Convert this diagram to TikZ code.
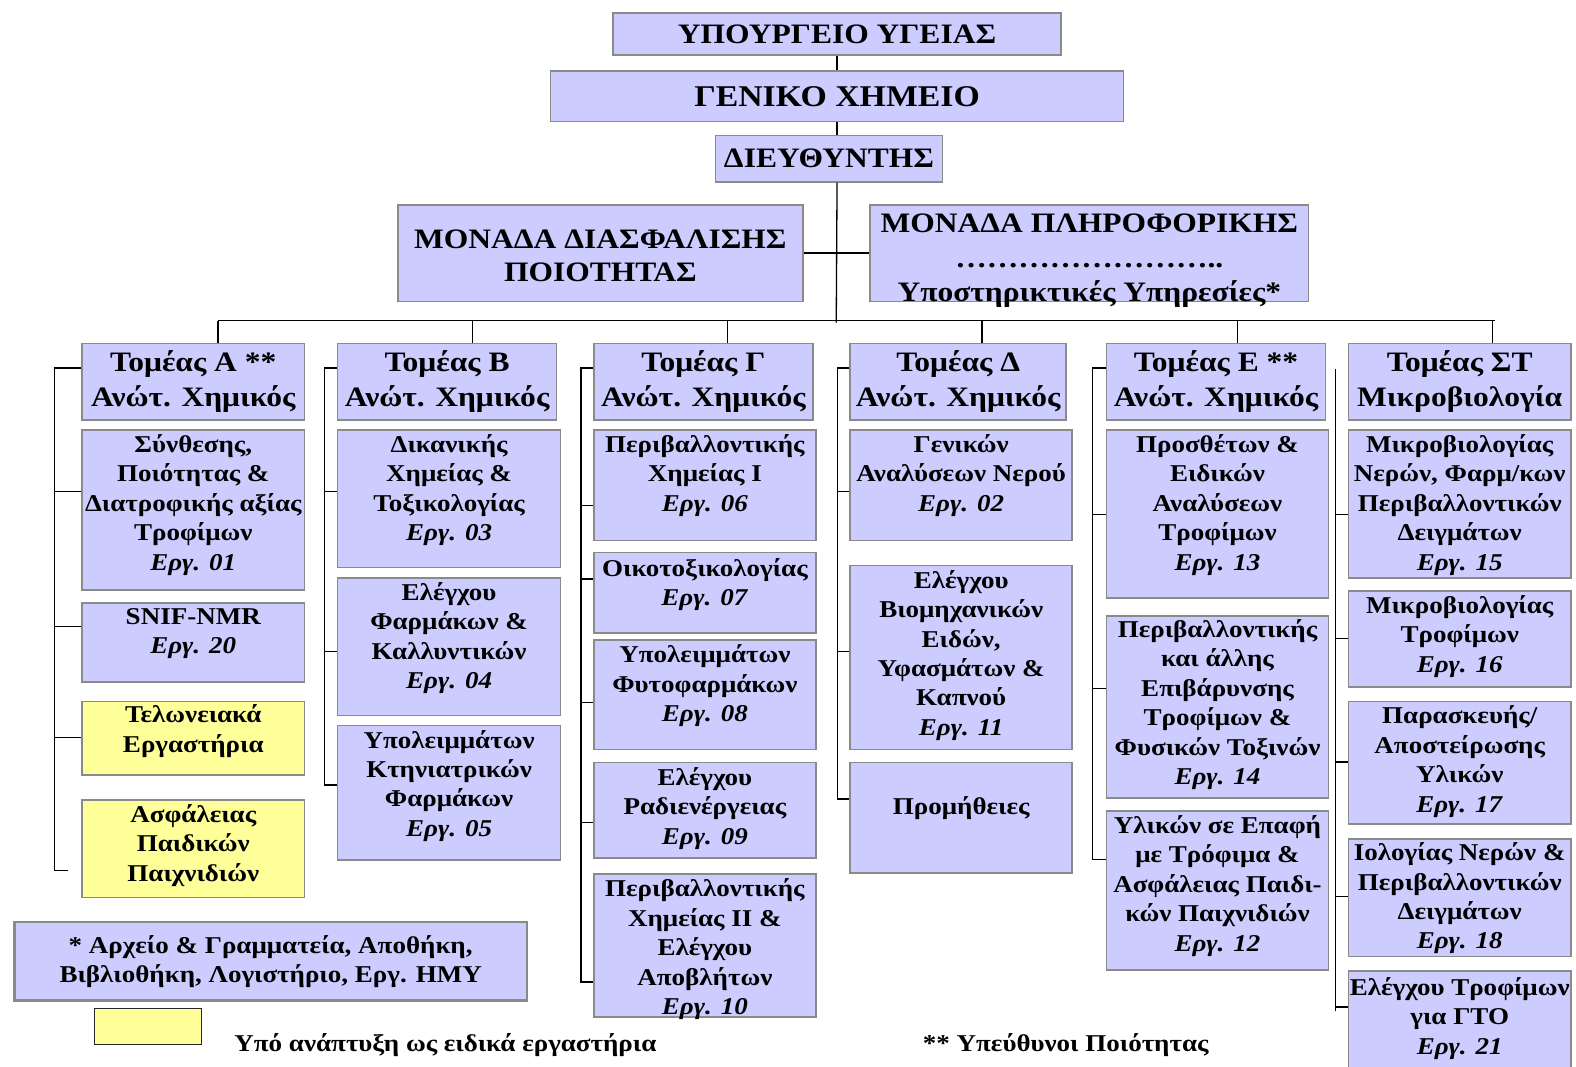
\documentclass[tikz,border=0pt]{standalone}
\usepackage{fontspec}
\setmainfont[FakeStretch=1.12]{Liberation Serif}
\usetikzlibrary{calc}
\definecolor{lav}{HTML}{CCCCFF}
\definecolor{ylw}{HTML}{FFFF99}
\definecolor{bgray}{HTML}{8A8A8A}
\newcommand\myfsub{\fontsize{24}{29.3}\selectfont\bfseries}
\newcommand\myftom{\fontsize{28}{35}\selectfont\bfseries}
\newcommand\myftop{\fontsize{28}{34}\selectfont\bfseries}
\newcommand\myfbig{\fontsize{30}{36}\selectfont\bfseries}
\newcommand\myfmid{\fontsize{28}{34.5}\selectfont\bfseries}
% box with top-aligned text: style, name, x1, y1, x2, y2, offset, font, text
\newcommand\orgbox[9]{%
 \pgfmathsetmacro\bw{#5-#3}\pgfmathsetmacro\bh{#6-#4}%
 \node[#1, minimum width=\bw pt, minimum height=\bh pt, anchor=north west] (#2) at (#3,#4) {};%
 \node[txt, font=#8, anchor=north] (#2t) at ([yshift=-#7pt]#2.north) {\rule{0pt}{22pt}#9};%
}
% box with centred text: style, name, x1, y1, x2, y2, font, text
\newcommand\cenbox[8]{%
 \pgfmathsetmacro\bw{#5-#3}\pgfmathsetmacro\bh{#6-#4}%
 \node[#1, minimum width=\bw pt, minimum height=\bh pt, anchor=north west, align=center, font=#7] (#2) at (#3,#4) {#8};%
}
\tikzset{
 box/.style={draw=bgray, line width=1.6pt, fill=lav, inner sep=0pt},
 ybox/.style={box, fill=ylw},
 lbox/.style={box, line width=2.6pt},
 txt/.style={align=center, inner sep=0pt},
 conn/.style={line width=1.3pt, black},
}
\begin{document}
\begin{tikzpicture}[x=1pt,y=-1pt]
\useasboundingbox (0,0) rectangle (1568,1061);
\fill[white] (0,0) rectangle (1568,1061);

% ---------- top boxes ----------
\cenbox{box}{min}{609}{12}{1055}{54}{\myftop}{ΥΠΟΥΡΓΕΙΟ ΥΓΕΙΑΣ}
\cenbox{box}{gen}{547}{70}{1117}{120}{\myfbig}{ΓΕΝΙΚΟ ΧΗΜΕΙΟ}
\cenbox{box}{dir}{711}{134}{937}{180}{\myftop}{ΔΙΕΥΘΥΝΤΗΣ}
\orgbox{box}{qa}{395}{203}{798}{299}{22}{\fontsize{28}{33}\selectfont\bfseries}{ΜΟΝΑΔΑ ΔΙΑΣΦΑΛΙΣΗΣ\\ΠΟΙΟΤΗΤΑΣ}
\orgbox{box}{it}{865}{203}{1301}{299}{6}{\myfmid}{ΜΟΝΑΔΑ ΠΛΗΡΟΦΟΡΙΚΗΣ\\……………………..\\Υποστηρικτικές Υπηρεσίες*}

% ---------- sector heads ----------
\cenbox{box}{TA}{81}{341}{302}{417}{\myftom}{Τομέας Α **\\Ανώτ. Χημικός}
\cenbox{box}{TB}{335}{341}{553}{417}{\myftom}{Τομέας Β\\Ανώτ. Χημικός}
\cenbox{box}{TG}{590}{341}{808}{417}{\myftom}{Τομέας Γ\\Ανώτ. Χημικός}
\cenbox{box}{TD}{845}{341}{1060}{417}{\myftom}{Τομέας Δ\\Ανώτ. Χημικός}
\cenbox{box}{TE}{1100}{341}{1318}{417}{\myftom}{Τομέας Ε **\\Ανώτ. Χημικός}
\cenbox{box}{TS}{1341}{341}{1562}{417}{\myftom}{Τομέας ΣΤ\\Μικροβιολογία}

% ---------- column A ----------
\orgbox{box}{A1}{81}{427}{302}{586}{1}{\myfsub}{Σύνθεσης,\\Ποιότητας \&\\Διατροφικής αξίας\\Τροφίμων\\\textit{Εργ. 01}}
\orgbox{box}{A2}{81}{599}{302}{678}{0}{\myfsub}{SNIF-NMR\\\textit{Εργ. 20}}
\orgbox{ybox}{A3}{81}{697}{302}{770}{0}{\myfsub}{Τελωνειακά\\Εργαστήρια}
\orgbox{ybox}{A4}{81}{795}{302}{892}{1}{\myfsub}{Ασφάλειας\\Παιδικών\\Παιχνιδιών}

% ---------- column B ----------
\orgbox{box}{B1}{335}{427}{557}{564}{1}{\myfsub}{Δικανικής\\Χημείας \&\\Τοξικολογίας\\\textit{Εργ. 03}}
\orgbox{box}{B2}{335}{574}{557}{711}{1}{\myfsub}{Ελέγχου\\Φαρμάκων \&\\Καλλυντικών\\\textit{Εργ. 04}}
\orgbox{box}{B3}{335}{721}{557}{855}{1}{\myfsub}{Υπολειμμάτων\\Κτηνιατρικών\\Φαρμάκων\\\textit{Εργ. 05}}

% ---------- column G ----------
\orgbox{box}{G1}{590}{427}{811}{537}{1}{\myfsub}{Περιβαλλοντικής\\Χημείας Ι\\\textit{Εργ. 06}}
\orgbox{box}{G2}{590}{549}{811}{629}{2}{\myfsub}{Οικοτοξικολογίας\\\textit{Εργ. 07}}
\orgbox{box}{G3}{590}{636}{811}{745}{1}{\myfsub}{Υπολειμμάτων\\Φυτοφαρμάκων\\\textit{Εργ. 08}}
\orgbox{box}{G4}{590}{758}{811}{853}{1}{\myfsub}{Ελέγχου\\Ραδιενέργειας\\\textit{Εργ. 09}}
\orgbox{box}{G5}{590}{869}{811}{1011}{1}{\myfsub}{Περιβαλλοντικής\\Χημείας ΙΙ \&\\Ελέγχου\\Αποβλήτων\\\textit{Εργ. 10}}

% ---------- column D ----------
\orgbox{box}{D1}{845}{427}{1066}{537}{1}{\myfsub}{Γενικών\\Αναλύσεων Νερού\\\textit{Εργ. 02}}
\orgbox{box}{D2}{845}{562}{1066}{745}{1}{\myfsub}{Ελέγχου\\Βιομηχανικών\\Ειδών,\\Υφασμάτων \&\\Καπνού\\\textit{Εργ. 11}}
\orgbox{box}{D3}{845}{758}{1066}{868}{30}{\myfsub}{Προμήθειες}

% ---------- column E ----------
\orgbox{box}{E1}{1100}{427}{1321}{594}{1}{\myfsub}{Προσθέτων \&\\Ειδικών\\Αναλύσεων\\Τροφίμων\\\textit{Εργ. 13}}
\orgbox{box}{E2}{1100}{612}{1321}{793}{0}{\myfsub}{Περιβαλλοντικής\\και άλλης\\Επιβάρυνσης\\Τροφίμων \&\\Φυσικών Τοξινών\\\textit{Εργ. 14}}
\orgbox{box}{E3}{1100}{806}{1321}{964}{1}{\myfsub}{Υλικών σε Επαφή\\με Τρόφιμα \&\\Ασφάλειας Παιδι-\\κών Παιχνιδιών\\\textit{Εργ. 12}}

% ---------- column ST ----------
\orgbox{box}{S1}{1341}{427}{1562}{574}{1}{\myfsub}{Μικροβιολογίας\\Νερών, Φαρμ/κων\\Περιβαλλοντικών\\Δειγμάτων\\\textit{Εργ. 15}}
\orgbox{box}{S2}{1341}{587}{1562}{683}{1}{\myfsub}{Μικροβιολογίας\\Τροφίμων\\\textit{Εργ. 16}}
\orgbox{box}{S3}{1341}{697}{1562}{819}{1}{\myfsub}{Παρασκευής/\\Αποστείρωσης\\Υλικών\\\textit{Εργ. 17}}
\orgbox{box}{S4}{1341}{834}{1562}{951}{0}{\myfsub}{Ιολογίας Νερών \&\\Περιβαλλοντικών\\Δειγμάτων\\\textit{Εργ. 18}}
\orgbox{box}{S5}{1341}{965}{1562}{1075}{3}{\myfsub}{Ελέγχου Τροφίμων\\για ΓΤΟ\\\textit{Εργ. 21}}

% ---------- legend ----------
\orgbox{lbox}{leg}{13}{916}{523}{994}{10}{\myfsub}{* Αρχείο \& Γραμματεία, Αποθήκη,\\Βιβλιοθήκη, Λογιστήριο, Εργ. ΗΜΥ}
\node[draw=black!85, line width=1pt, fill=ylw, minimum width=106pt, minimum height=36pt, anchor=north west, inner sep=0pt] (key) at (94,1003) {};
\node[font=\myfsub, anchor=west, inner sep=0pt] (keytxt) at (233,1040) {Υπό ανάπτυξη ως ειδικά εργαστήρια};
\node[font=\myfsub, anchor=west, inner sep=0pt] (qnote) at (918,1040) {** Υπεύθυνοι Ποιότητας};

% ---------- connectors ----------
\draw[conn] (min.south) -- (gen.north);
\draw[conn] (gen.south) -- (min.south |- dir.north);
\draw[conn] (min.south |- dir.south) -- (832,321);
\draw[conn] (qa.east) -- (it.west);
\draw[conn] (217,319) -- (1487,319);
\foreach \n/\x in {TA/217,TB/470,TG/724,TD/977,TE/1231,TS/1485}
  \draw[conn] (\x,319) -- (\n.north -| \x,319);

% column A bracket
\draw[conn] (TA.west |- 0,366) -| (54,866) -- (68,866);
\draw[conn] (A1.west |- 0,489) -- (54,489);
\draw[conn] (A2.west |- 0,623) -- (54,623);
\draw[conn] (A3.west |- 0,734) -- (54,734);
% column B
\draw[conn] (TB.west |- 0,366) -| (323,781) -- (B3.west |- 0,781);
\draw[conn] (B1.west |- 0,489) -- (323,489);
\draw[conn] (B2.west |- 0,648) -- (323,648);
% column G
\draw[conn] (TG.west |- 0,366) -| (578,977) -- (G5.west |- 0,977);
\draw[conn] (G1.west |- 0,503) -- (578,503);
\draw[conn] (G2.west |- 0,576) -- (578,576);
\draw[conn] (G3.west |- 0,699) -- (578,699);
\draw[conn] (G4.west |- 0,818) -- (578,818);
% column D
\draw[conn] (TD.west |- 0,366) -| (833,795) -- (D3.west |- 0,795);
\draw[conn] (D1.west |- 0,489) -- (833,489);
\draw[conn] (D2.west |- 0,648) -- (833,648);
% column E
\draw[conn] (TE.west |- 0,366) -| (1087,855) -- (E3.west |- 0,855);
\draw[conn] (E1.west |- 0,512) -- (1087,512);
\draw[conn] (E2.west |- 0,685) -- (1087,685);
% column ST
\draw[conn] (1329,367) -- (1329,1006);
\draw[conn] (S1.west |- 0,512) -- (1329,512);
\draw[conn] (S2.west |- 0,635) -- (1329,635);
\draw[conn] (S3.west |- 0,758) -- (1329,758);
\draw[conn] (S4.west |- 0,892) -- (1329,892);
\draw[conn] (S5.west |- 0,1002) -- (1329,1002);
\end{tikzpicture}
\end{document}
